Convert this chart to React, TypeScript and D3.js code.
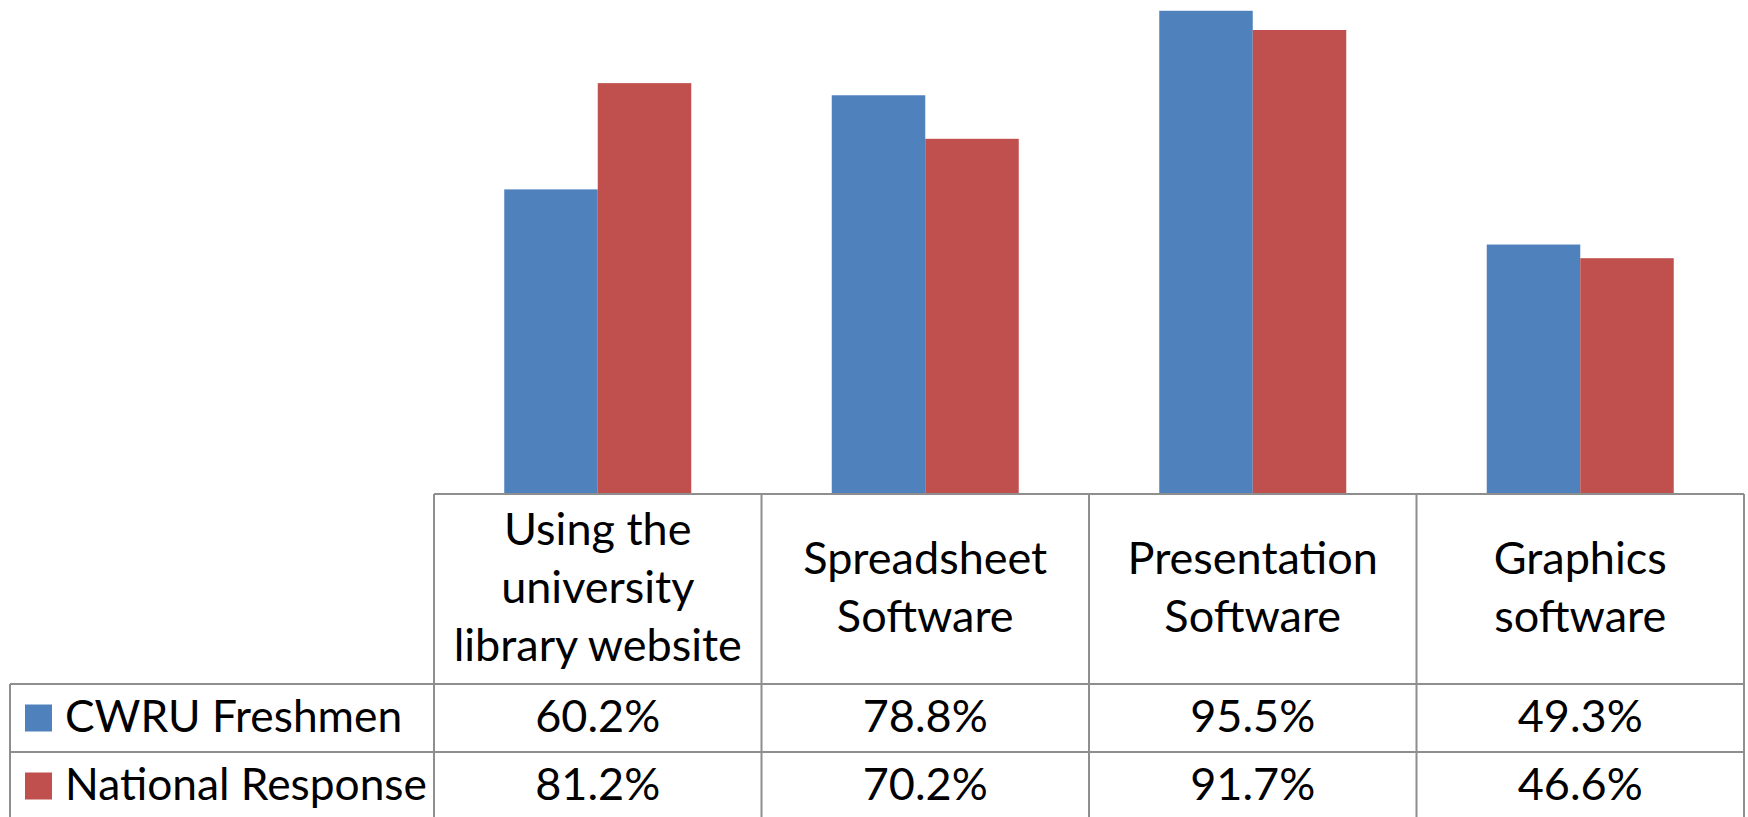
import React from "react";
import * as d3 from "d3";

const categories = [
  ["Using the", "university", "library website"],
  ["Spreadsheet", "Software"],
  ["Presentation", "Software"],
  ["Graphics", "software"],
];
const seriesNames = ["CWRU Freshmen", "National Response"];
const cwru = [60.2, 78.8, 95.5, 49.3];
const national = [81.2, 70.2, 91.7, 46.6];
const colors = ["#4F81BD", "#C0504D"];

const W = 1748;
const H = 817;
const FONT = "Lato, 'Open Sans', sans-serif";
const FS = 45;
const LEGEND_FS = 44.3;

export default function App() {
  const tableLeft = 434;
  const tableRight = 1744;
  const legendLeft = 10;
  const baseY = 494;
  const row1 = 684;
  const row2 = 752;
  const row3 = 820;
  const lineH = 57.7;

  const keys = categories.map((_, i) => String(i));
  const x = d3.scaleBand<string>().domain(keys).range([tableLeft, tableRight]).padding(0);
  const step = x.bandwidth();
  const groupW = step * 0.571;
  const xs = d3
    .scaleBand<string>()
    .domain(["0", "1"])
    .range([(step - groupW) / 2, (step + groupW) / 2])
    .padding(0);
  const y = d3.scaleLinear().domain([0, 100]).range([baseY, -12]);

  const series = [cwru, national];
  const gridColor = "#8E8E8E";
  const gw = 2;

  const vLines = [tableLeft, ...keys.slice(1).map((k) => x(k)!), tableRight];

  return (
    <svg
      width={W}
      height={H}
      style={{ position: "absolute", left: 0, top: 0, background: "#fff" }}
      fontFamily={FONT}
    >
      <rect x={0} y={0} width={W} height={H} fill="#fff" />
      {series.map((vals, si) =>
        vals.map((v, ci) => (
          <rect
            key={`b${si}-${ci}`}
            x={x(String(ci))! + xs(String(si))!}
            y={y(v)}
            width={xs.bandwidth()}
            height={y(0) - y(v)}
            fill={colors[si]}
          />
        ))
      )}
      <g stroke={gridColor} strokeWidth={gw}>
        <line x1={tableLeft} x2={tableRight} y1={baseY} y2={baseY} />
        <line x1={legendLeft} x2={tableRight} y1={row1} y2={row1} />
        <line x1={legendLeft} x2={tableRight} y1={row2} y2={row2} />
        <line x1={legendLeft} x2={tableRight} y1={row3} y2={row3} />
        {vLines.map((vx, i) => (
          <line key={`v${i}`} x1={vx} x2={vx} y1={baseY} y2={row3} />
        ))}
        <line x1={legendLeft} x2={legendLeft} y1={row1} y2={row3} />
      </g>
      {categories.map((lines, ci) => {
        const cx = x(String(ci))! + step / 2;
        const cy = (baseY + row1) / 2;
        return (
          <text key={`c${ci}`} fontSize={FS} textAnchor="middle" fill="#000">
            {lines.map((ln, li) => (
              <tspan key={li} x={cx} y={cy + 14 + (li - (lines.length - 1) / 2) * lineH}>
                {ln}
              </tspan>
            ))}
          </text>
        );
      })}
      {seriesNames.map((name, si) => {
        const top = si === 0 ? row1 : row2;
        const bottom = si === 0 ? row2 : row3;
        const cy = (top + bottom) / 2;
        return (
          <g key={`r${si}`}>
            <rect x={25} y={cy - 13.5} width={27} height={27} fill={colors[si]} />
            <text x={65} y={cy + 14} fontSize={LEGEND_FS} fill="#000">
              {name}
            </text>
            {series[si].map((v, ci) => (
              <text
                key={`t${ci}`}
                x={x(String(ci))! + step / 2}
                y={cy + 14}
                fontSize={FS}
                textAnchor="middle"
                fill="#000"
              >
                {v.toFixed(1)}%
              </text>
            ))}
          </g>
        );
      })}
    </svg>
  );
}
